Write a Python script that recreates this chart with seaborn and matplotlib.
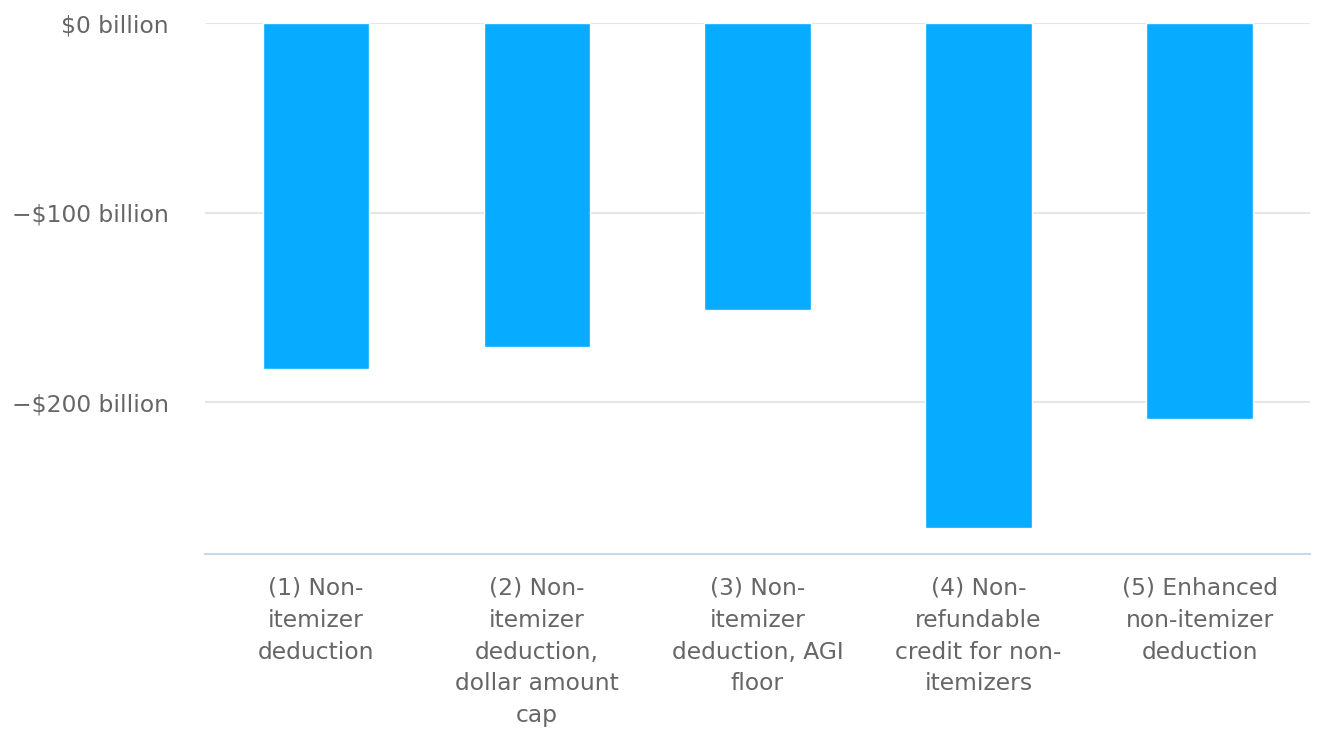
import pandas as pd
import seaborn as sns
import matplotlib.pyplot as plt

# Dados (bilhões de dólares)
categorias = [
    "(1) Non-\nitemizer\ndeduction",
    "(2) Non-\nitemizer\ndeduction,\ndollar amount\ncap",
    "(3) Non-\nitemizer\ndeduction, AGI\nfloor",
    "(4) Non-\nrefundable\ncredit for non-\nitemizers",
    "(5) Enhanced\nnon-itemizer\ndeduction",
]
valores = [-182.8, -170.7, -151.3, -266.8, -209.0]
ticks_y = [0, -100, -200]
rotulos_y = ["$0 billion", "\u2212$100 billion", "\u2212$200 billion"]

df = pd.DataFrame({"categoria": categorias, "valor": valores})

sns.set_style("white")
plt.rcParams["font.family"] = ["DejaVu Sans"]

fig = plt.figure(figsize=(13.29, 7.29), dpi=100)
ax = fig.add_axes([0.1543, 0.240, 0.8314, 0.728])

sns.barplot(
    data=df,
    x="categoria",
    y="valor",
    color="#07abff",
    saturation=1,
    width=0.48,
    ax=ax,
)

ax.set_ylim(-280.3, 0)
ax.set_xlim(-0.5, 4.5)
ax.set_yticks(ticks_y)
ax.set_yticklabels(rotulos_y, fontsize=16.8, color="#666666")
ax.set_xticks(range(len(categorias)))
ax.set_xticklabels(categorias, fontsize=16.8, color="#666666", linespacing=1.49)
ax.tick_params(axis="y", length=0, pad=26)
ax.tick_params(axis="x", length=0, pad=16.5)
ax.set_xlabel("")
ax.set_ylabel("")

ax.yaxis.grid(True, color="#e6e6e6", linewidth=1.5)
ax.set_axisbelow(True)
for lado in ["top", "right", "left"]:
    ax.spines[lado].set_visible(False)
ax.spines["bottom"].set_color("#ccd6eb")
ax.spines["bottom"].set_linewidth(1.5)

plt.savefig("out.png", dpi=100)
